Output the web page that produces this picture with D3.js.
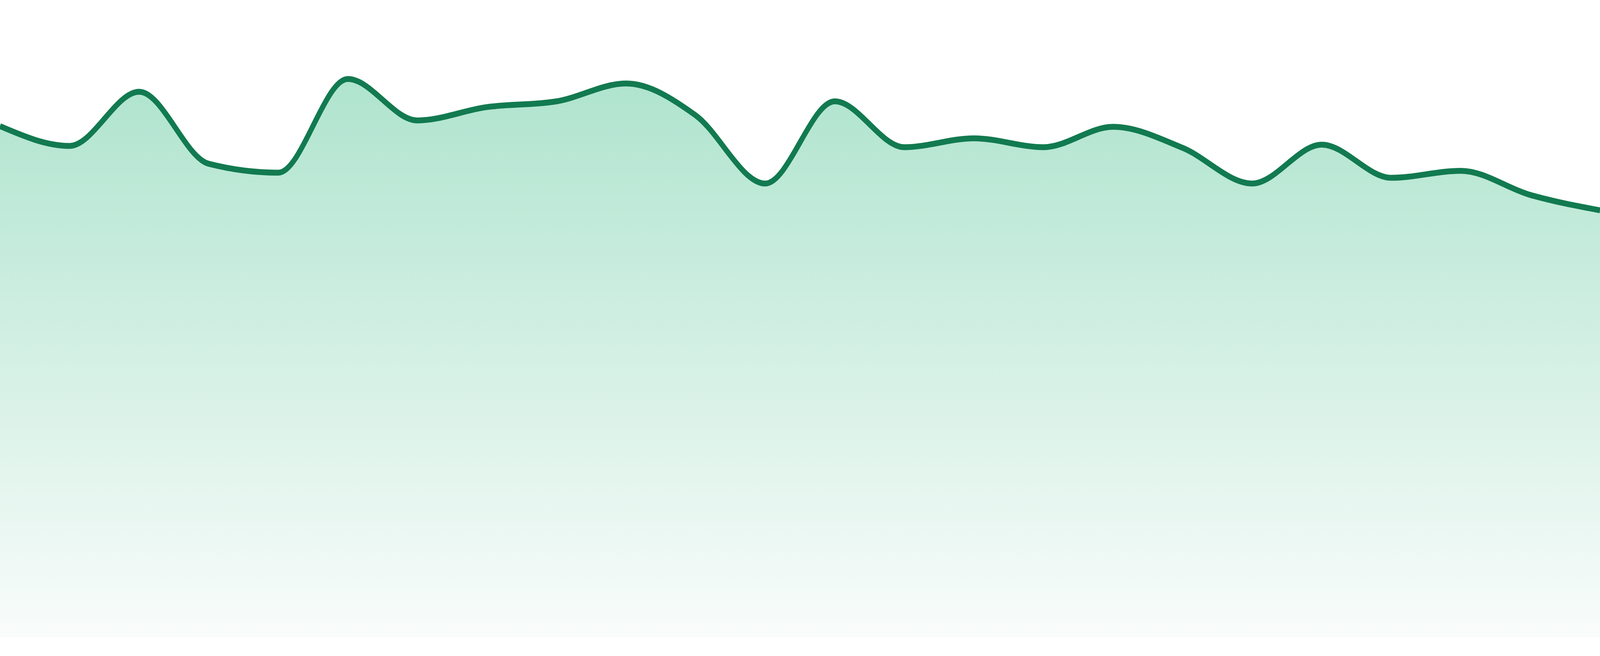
<!DOCTYPE html>
<html>
<head>
<meta charset="utf-8">
<script src="https://cdn.jsdelivr.net/npm/d3@7"></script>
<style>
  html, body { margin: 0; padding: 0; background: #fff; overflow: hidden; }
  svg { display: block; }
</style>
</head>
<body>
<svg id="chart"></svg>
<script>
// series values, one per step
var steps = d3.range(24);
var values = [80.2, 77.1, 85.6, 74.3, 72.9, 87.6, 81.1, 83.2, 84.1, 86.9, 81.9, 71.2,
              84.1, 76.9, 78.3, 76.9, 80.1, 76.8, 71.2, 77.3, 72.1, 73.2, 69.4, 67.0];

var width = 4800, height = 1680;
var plotBottom = 1632;

// fixed drawing space, stretched to whatever the window is
var svg = d3.select("#chart")
    .attr("viewBox", "0 0 " + width + " " + height)
    .attr("preserveAspectRatio", "none")
    .style("width", "100vw")
    .style("height", "100vh");

var x = d3.scaleLinear().domain([0, steps.length - 1]).range([0, width]);
var y = d3.scaleLinear().domain([0, 100]).range([plotBottom, 0]);

var data = steps.map(function(d, i){ return {i: d, v: values[i]}; });

// fill gradient: from the highest point down to the base
var grad = svg.append("defs").append("linearGradient")
    .attr("id", "fade")
    .attr("gradientUnits", "userSpaceOnUse")
    .attr("x1", 0).attr("x2", 0)
    .attr("y1", y(d3.max(values)))
    .attr("y2", y(0));
grad.append("stop").attr("offset", 0).attr("stop-color", "#afe4ce");
grad.append("stop").attr("offset", 1).attr("stop-color", "#f9fcfb");

var area = d3.area()
    .x(function(d){ return x(d.i); })
    .y0(y(0))
    .y1(function(d){ return y(d.v); })
    .curve(d3.curveMonotoneX);

var line = d3.line()
    .x(function(d){ return x(d.i); })
    .y(function(d){ return y(d.v); })
    .curve(d3.curveMonotoneX);

svg.append("path")
    .datum(data)
    .attr("d", area)
    .style("fill", "url(#fade)");

svg.append("path")
    .datum(data)
    .attr("d", line)
    .style("fill", "none")
    .style("stroke", "#127a50")
    .style("stroke-width", 15);
</script>
</body>
</html>
